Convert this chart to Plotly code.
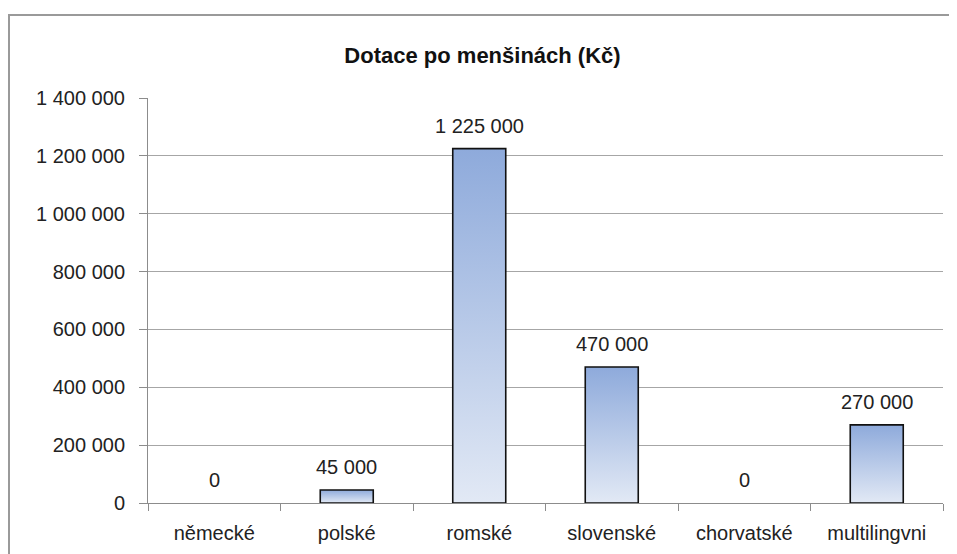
import plotly.graph_objects as go

categories = ["německé", "polské", "romské", "slovenské", "chorvatské", "multilingvni"]
values = [0, 45000, 1225000, 470000, 0, 270000]
y_ticks = [0, 200000, 400000, 600000, 800000, 1000000, 1200000, 1400000]

FONT = "Liberation Sans, Arial"
bar_half = 0.2
fig = go.Figure()

# gradient bars drawn as filled polygons (plotly bars have no gradient fill)
for i, v in enumerate(values):
    if v == 0:
        continue
    fig.add_trace(go.Scatter(
        x=[i - bar_half, i - bar_half, i + bar_half, i + bar_half, i - bar_half],
        y=[0, v, v, 0, 0],
        mode="lines", fill="toself",
        fillgradient=dict(type="vertical",
                          colorscale=[[0, "#e2e9f5"], [1, "#8eaadb"]]),
        line=dict(color="#111111", width=1.6),
        hoverinfo="skip", showlegend=False,
    ))

# value labels
for i, v in enumerate(values):
    fig.add_annotation(x=i, y=v, text=f"{v:,}".replace(",", " "),
                       showarrow=False, yanchor="bottom", yshift=10,
                       font=dict(family=FONT, size=20, color="#222222"))

# page body has an 8px margin, so the figure is a bit smaller than the window
fig.update_layout(
    width=949, height=546,
    margin=dict(l=140, r=14, t=90, b=51),
    paper_bgcolor="white", plot_bgcolor="white",
    separators=", ",
    font=dict(family=FONT, size=20, color="#222222"),
    title=dict(text="<b>Dotace po menšinách (Kč)</b>", x=0.5, xanchor="center",
               y=1 - 47 / 546, yanchor="middle", font=dict(size=22, color="#111111")),
    shapes=[dict(type="rect", xref="paper", yref="paper",
                 x0=-139 / 795, x1=1.05, y0=-0.2, y1=1 + 83 / 405,
                 line=dict(color="#9a9a9a", width=2), layer="below")],
)

fig.update_xaxes(
    range=[-0.5, len(categories) - 0.5],
    tickmode="array", tickvals=list(range(len(categories))), ticktext=categories,
    ticks="", showgrid=False, zeroline=False, automargin=False,
    showline=True, linecolor="#8c8c8c", linewidth=1,
    ticklabelstandoff=12,
    minor=dict(tickmode="array", tickvals=[k - 0.5 for k in range(len(categories) + 1)],
               ticks="outside", ticklen=7, tickcolor="#8c8c8c", showgrid=False),
    fixedrange=True,
)
fig.update_yaxes(
    range=[0, 1400000], tickmode="array", tickvals=y_ticks,
    tickformat=",d", ticks="outside", ticklen=8, tickcolor="#8c8c8c",
    showgrid=True, gridcolor="#a6a6a6", gridwidth=1, zeroline=False,
    showline=True, linecolor="#8c8c8c", linewidth=1, automargin=False,
    ticklabelstandoff=10,
    fixedrange=True,
)

fig.write_html("out.html")
